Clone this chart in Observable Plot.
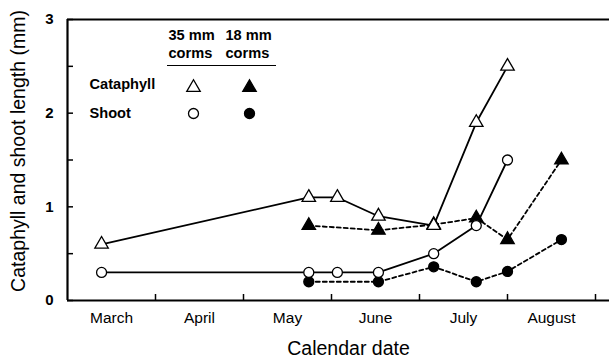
<!DOCTYPE html>
<html><head><meta charset="utf-8">
<script src="https://cdn.jsdelivr.net/npm/d3@7"></script>
<script src="https://cdn.jsdelivr.net/npm/@observablehq/plot@0.6"></script>
<style>html,body{margin:0;padding:0;background:#fff} svg{display:block}</style>
</head><body><div id="chart"></div>
<script>
// ---- data ----
const months = ["March", "April", "May", "June", "July", "August"];
const monthBoundaries = [1, 2, 3, 4, 5, 6];
const monthCenters = [0.5, 1.5, 2.5, 3.5, 4.5, 5.5];
const yMinorTicks = [0, 0.5, 1, 1.5, 2, 2.5, 3];
const yLabelTicks = [0, 1, 2, 3];

const dates35 = ["2000-03-13", "2000-05-24", "2000-06-03", "2000-06-17", "2000-07-06", "2000-07-21", "2000-08-01"];
const cataphyll35 = [0.6, 1.1, 1.1, 0.9, 0.8, 1.9, 2.5];
const shoot35 = [0.3, 0.3, 0.3, 0.3, 0.5, 0.8, 1.5];

const dates18 = ["2000-05-24", "2000-06-17", "2000-07-06", "2000-07-21", "2000-08-01", "2000-08-20"];
const cataphyll18 = [0.8, 0.75, 0.81, 0.88, 0.65, 1.5];
const shoot18 = [0.2, 0.2, 0.36, 0.2, 0.31, 0.65];

// month position: months since March 1 (each month one unit)
function monthPos(s) {
  const d = new Date(s);
  const m = d.getUTCMonth();
  const dim = new Date(Date.UTC(d.getUTCFullYear(), m + 1, 0)).getUTCDate();
  return m - 2 + (d.getUTCDate() - 1) / dim;
}
const t35 = dates35.map((d, i) => ({x: monthPos(d), cat: cataphyll35[i], shoot: shoot35[i]}));
const t18 = dates18.map((d, i) => ({x: monthPos(d), cat: cataphyll18[i], shoot: shoot18[i]}));

const FONT = "'Liberation Sans', Arial, Helvetica, sans-serif";
const lw = 1.8;
const dash = "4,3";
const rCircle = 5;
const rTri = 5;

const underline = () => {
  const l = d3.create("svg:line")
    .attr("x1", 167).attr("x2", 276).attr("y1", 65.5).attr("y2", 65.5)
    .attr("stroke", "black").attr("stroke-width", 1.2);
  return l.node();
};

const legendText = (t, dx, dy) => Plot.text([t], {
  text: d => d, frameAnchor: "top-left", dx, dy, textAnchor: "start", lineAnchor: "middle",
  fontSize: 14.6, fontWeight: "bold", fill: "black"
});
const legendDot = (dx, dy, symbol, fill) => Plot.dot([0], {
  frameAnchor: "top-left", dx, dy, symbol, fill, stroke: "black", strokeWidth: 1.3,
  r: symbol === "circle" ? rCircle : rTri
});

const chart = Plot.plot({
  width: 609, height: 362,
  marginLeft: 67, marginRight: 0, marginTop: 19, marginBottom: 62,
  x: {domain: [0, 542 / 88], axis: null},
  y: {domain: [0, 3], axis: null},
  style: {fontFamily: FONT, color: "black", background: "white", overflow: "visible"},
  marks: [
    // ticks (inward)
    Plot.axisX({ticks: monthBoundaries, tickSize: -6, fill: "none", label: null, strokeWidth: 1.5}),
    Plot.axisY({ticks: yMinorTicks, tickSize: -6, fill: "none", label: null, strokeWidth: 1.5}),
    // tick labels
    Plot.axisX({ticks: monthCenters, tickSize: 0, tickPadding: 11, tickFormat: d => months[Math.floor(d)],
      fontSize: 15.5, label: null}),
    Plot.axisY({ticks: yLabelTicks, tickSize: 0, tickPadding: 14, tickFormat: d => String(d),
      fontSize: 15, fontWeight: "bold", label: null}),
    // frame
    Plot.ruleY([0, 3], {stroke: "black", strokeWidth: 2.2}),
    Plot.ruleX([0], {stroke: "black", strokeWidth: 2.2}),
    // axis titles
    Plot.text(["Calendar date"], {text: d => d, frameAnchor: "bottom", dx: 10, dy: 48, lineAnchor: "middle",
      fontSize: 19.5, fill: "black"}),
    Plot.text(["Cataphyll and shoot length (mm)"], {text: d => d, frameAnchor: "left", dx: -49, dy: -9, rotate: -90,
      lineAnchor: "middle", textAnchor: "middle", fontSize: 19.5, fill: "black"}),
    // lines
    Plot.line(t18, {x: "x", y: "shoot", stroke: "black", strokeWidth: lw, strokeDasharray: dash}),
    Plot.line(t18, {x: "x", y: "cat", stroke: "black", strokeWidth: lw, strokeDasharray: dash}),
    Plot.line(t35, {x: "x", y: "shoot", stroke: "black", strokeWidth: lw}),
    Plot.line(t35, {x: "x", y: "cat", stroke: "black", strokeWidth: lw}),
    // markers
    Plot.dot(t18, {x: "x", y: "shoot", r: rCircle, fill: "black", stroke: "black", strokeWidth: 1.3}),
    Plot.dot(t18, {x: "x", y: "cat", r: rTri, symbol: "triangle", fill: "black", stroke: "black", strokeWidth: 1.3}),
    Plot.dot(t35, {x: "x", y: "shoot", r: rCircle, fill: "white", stroke: "black", strokeWidth: 1.3}),
    Plot.dot(t35, {x: "x", y: "cat", r: rTri, symbol: "triangle", fill: "white", stroke: "black", strokeWidth: 1.3}),
    // legend
    legendText("35 mm", 101, 16),
    legendText("corms", 101, 34),
    legendText("18 mm", 158, 16),
    legendText("corms", 158, 34),
    underline,
    legendText("Cataphyll", 22, 65),
    legendText("Shoot", 22, 94),
    legendDot(126, 68, "triangle", "white"),
    legendDot(182, 68, "triangle", "black"),
    legendDot(126, 94, "circle", "white"),
    legendDot(182, 94, "circle", "black")
  ]
});
document.getElementById("chart").appendChild(chart);
</script>
</body></html>
